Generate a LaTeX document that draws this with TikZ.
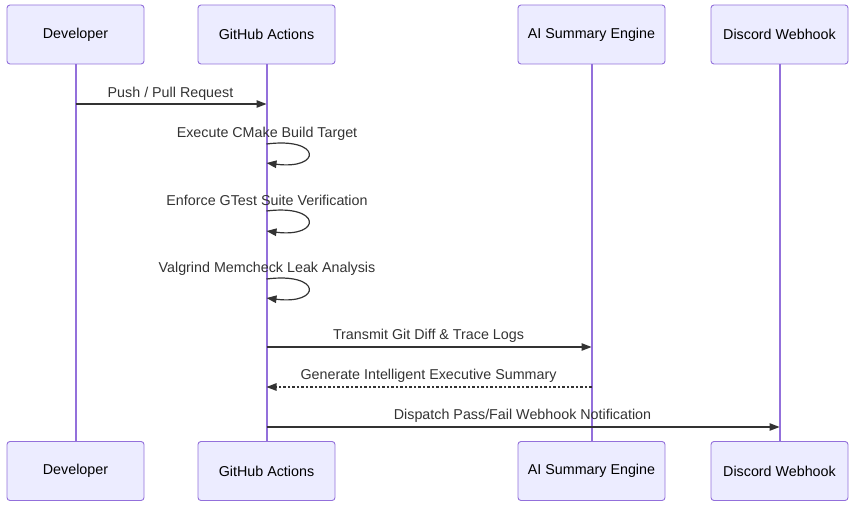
\documentclass[tikz,border=0pt]{standalone}
\usepackage{fontspec}
\setmainfont{Liberation Sans}
\usetikzlibrary{arrows.meta}
\definecolor{actfill}{HTML}{ECECFF}
\definecolor{actline}{HTML}{9370DB}
\definecolor{txt}{HTML}{333333}
\begin{document}
\begin{tikzpicture}[x=1pt,y=-1pt,
  actor/.style={draw=actline,fill=actfill,rounded corners=3pt,line width=0.9pt,minimum height=59pt,text=black,font=\fontsize{14.3}{16}\selectfont,inner sep=0pt},
  life/.style={draw=actline,line width=2pt},
  msg/.style={draw=txt,line width=1.2pt,-{Triangle[length=10pt,width=7.5pt]}},
  lbl/.style={text=txt,font=\fontsize{14.3}{16}\selectfont,inner sep=0pt}]
\useasboundingbox (0,0) rectangle (853,508);
% lifelines (behind boxes)
\coordinate (devL1) at (75.5,64);
\coordinate (devL2) at (75.5,442);
\coordinate (ghL1) at (266.5,64);
\coordinate (ghL2) at (266.5,442);
\coordinate (aiL1) at (591.5,64);
\coordinate (aiL2) at (591.5,442);
\coordinate (dcL1) at (779.5,64);
\coordinate (dcL2) at (779.5,442);
\draw[life] (devL1) -- (devL2);
\draw[life] (ghL1) -- (ghL2);
\draw[life] (aiL1) -- (aiL2);
\draw[life] (dcL1) -- (dcL2);
% top actors
\node[actor,minimum width=137pt] (devT) at (75.5,34.5) {Developer};
\node[actor,minimum width=137pt] (ghT) at (266.5,34.5) {GitHub Actions};
\node[actor,minimum width=147pt] (aiT) at (591.5,34.5) {AI Summary Engine};
\node[actor,minimum width=137pt] (dcT) at (779.5,34.5) {Discord Webhook};
% bottom actors
\node[actor,minimum width=137pt] (devB) at (75.5,471) {Developer};
\node[actor,minimum width=137pt] (ghB) at (266.5,471) {GitHub Actions};
\node[actor,minimum width=147pt] (aiB) at (591.5,471) {AI Summary Engine};
\node[actor,minimum width=137pt] (dcB) at (779.5,471) {Discord Webhook};
% coordinates on lifelines
\coordinate (d1) at (75.5,104);
\coordinate (g1) at (266.5,104);
\coordinate (g2) at (266.5,347);
\coordinate (a2) at (591.5,347);
\coordinate (a3) at (591.5,387);
\coordinate (g3) at (266.5,387);
\coordinate (g4) at (266.5,427);
\coordinate (c4) at (779.5,427);
% messages
\draw[msg] (d1) -- (g1);
\node[lbl] (m1) at (170.5,93.5) {Push / Pull Request};

\coordinate (s1a) at (266.5,144);
\coordinate (s1b) at (266.5,163);
\draw[msg] (s1a) .. controls (322,137) and (322,170) .. (s1b);
\node[lbl] (m2) at (267,133.5) {Execute CMake Build Target};

\coordinate (s2a) at (266.5,211);
\coordinate (s2b) at (266.5,231);
\draw[msg] (s2a) .. controls (322,204) and (322,238) .. (s2b);
\node[lbl] (m3) at (267,200.5) {Enforce GTest Suite Verification};

\coordinate (s3a) at (266.5,279);
\coordinate (s3b) at (266.5,298);
\draw[msg] (s3a) .. controls (322,272) and (322,305) .. (s3b);
\node[lbl] (m4) at (267,268.5) {Valgrind Memcheck Leak Analysis};

\draw[msg] (g2) -- (a2);
\node[lbl] (m5) at (428.5,335.5) {Transmit Git Diff \& Trace Logs};

\draw[msg,dash pattern=on 2.5pt off 2pt] (a3) -- (g3);
\node[lbl] (m6) at (428.5,375.5) {Generate Intelligent Executive Summary};

\draw[msg] (g4) -- (c4);
\node[lbl] (m7) at (522.5,415.5) {Dispatch Pass/Fail Webhook Notification};
\end{tikzpicture}
\end{document}
